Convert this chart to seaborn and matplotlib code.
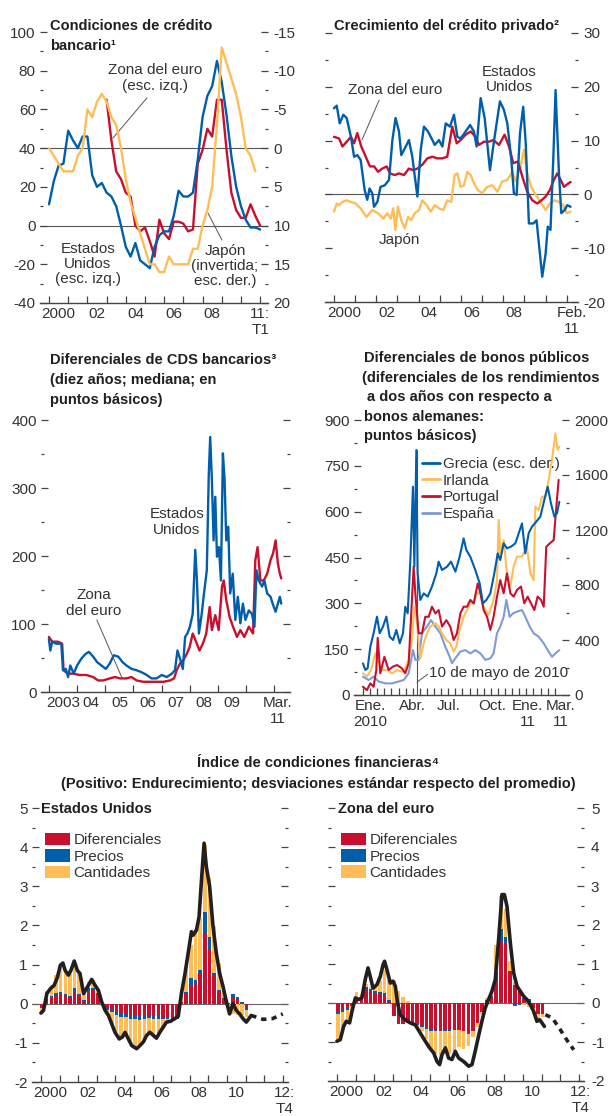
import numpy as np
import matplotlib
matplotlib.use('Agg')
import matplotlib.pyplot as plt
import seaborn as sns
from matplotlib.patches import Patch
from matplotlib.lines import Line2D
from matplotlib.ticker import MultipleLocator

W, H = 614, 1116

BLUE = '#005EAA'
RED = '#C8102E'
YELLOW = '#FEBE55'
LIGHT = '#7D9BD7'
INK = '#231F20'
TXT = '#333333'
AXC = '#444444'

# ---- Condiciones de credito bancario (quarterly)
COND_US_START = 2000.0
COND_US = [11, 23, 31, 32, 49, 44, 40, 46, 46, 26, 20, 22, 17, 15, 10, 0,
           -11, -16, -9, -18, -20, -22, -11, -5, -3, -3, 5, 18, 15, 15, 17, 34,
           56, 67, 72, 85, 74, 57, 36, 20, 10, 3, -1, -1, -2]
COND_EURO_START = 2003.0
COND_EURO = [65, 44, 28, 24, 17, 15, 0, -3, -1, -8, -16, 3, -4, -7, 2, 2,
             1, -3, -2, 32, 39, 50, 46, 65, 65, 39, 17, 8, 4, 4, 11, 5, 0]
COND_JAPAN_START = 2000.0
COND_JAPAN = [0, 1, 2, 3, 3, 3, 1, 0, -5, -4, -6, -7, -6, -4, -3, 0,
              4, 7, 9, 11, 13, 15, 15, 16, 16, 14, 15, 15, 15, 15, 13, 13,
              10, 8, 5, -3, -13, -11, -9, -7, -4, 0, 1, 3]

# ---- Crecimiento del credito privado (monthly, traced)
CRED_US_X = [2000.0, 2000.13, 2000.27, 2000.44, 2000.6, 2000.8, 2000.95, 2001.1, 2001.26, 2001.45,
             2001.57, 2001.68, 2001.81, 2001.89, 2002.05, 2002.2, 2002.4, 2002.6, 2002.76, 2002.91,
             2003.07, 2003.18, 2003.39, 2003.54, 2003.7, 2003.94, 2004.1, 2004.25, 2004.44, 2004.65,
             2004.76, 2004.96, 2005.12, 2005.28, 2005.48, 2005.67, 2005.83, 2005.98, 2006.17, 2006.43,
             2006.61, 2006.74, 2006.93, 2007.12, 2007.37, 2007.59, 2007.84, 2008.03, 2008.19, 2008.38,
             2008.5, 2008.63, 2008.79, 2008.94, 2009.06, 2009.21, 2009.42, 2009.57, 2009.73, 2009.84,
             2010.0, 2010.1, 2010.23, 2010.36, 2010.47, 2010.63, 2010.74, 2010.9, 2011.02, 2011.18]
CRED_US = [16.0, 16.5, 13.2, 14.8, 14.2, 10.7, 7.0, 7.3, 6.4, 0.8,
           -1.0, 1.1, 0.2, -2.3, -1.4, 1.4, 1.7, 2.7, 10.1, 14.2,
           11.7, 7.3, 8.9, 10.1, 7.0, -0.4, 8.3, 12.6, 11.7, 10.1,
           9.2, 10.1, 8.9, 13.2, 12.6, 14.8, 10.7, 10.4, 11.4, 12.9,
           11.7, 8.9, 17.9, 14.2, 4.5, 10.7, 17.3, 15.7, 13.2, 6.4,
           0.2, -0.1, 11.4, 16.3, 9.5, -5.4, -5.4, -4.8, -11.0, -15.3,
           -11.0, -6.0, -6.6, 6.4, 19.4, 3.9, -3.5, -2.9, -2.0, -2.3]
CRED_EURO_X = [2000.0, 2000.24, 2000.4, 2000.6, 2000.8, 2000.95, 2001.1, 2001.29, 2001.5, 2001.7,
               2001.9, 2002.08, 2002.28, 2002.49, 2002.65, 2002.87, 2003.07, 2003.31, 2003.54, 2003.75,
               2003.94, 2004.17, 2004.41, 2004.65, 2004.88, 2005.12, 2005.35, 2005.59, 2005.8, 2005.98,
               2006.22, 2006.46, 2006.69, 2006.85, 2007.09, 2007.32, 2007.53, 2007.8, 2008.06, 2008.27,
               2008.47, 2008.69, 2008.9, 2009.13, 2009.37, 2009.61, 2009.8, 2010.0, 2010.2, 2010.39,
               2010.55, 2010.71, 2010.87, 2011.06, 2011.18]
CRED_EURO = [10.7, 10.4, 8.9, 9.8, 10.7, 9.5, 11.4, 8.9, 7.0, 5.2,
             5.2, 4.2, 4.8, 5.2, 3.9, 3.6, 3.9, 3.6, 4.8, 4.5,
             4.8, 5.5, 6.7, 7.0, 6.7, 6.7, 7.0, 12.6, 9.5, 10.1,
             11.1, 11.7, 10.7, 9.2, 9.8, 9.8, 10.1, 9.2, 11.1, 8.9,
             5.8, 6.1, 3.3, 0.5, -1.1, -1.7, -1.1, -0.4, 0.8, 2.7,
             3.9, 2.7, 1.4, 2.0, 2.3]
CRED_JAPAN_X = [2000.0, 2000.13, 2000.24, 2000.4, 2000.6, 2000.8, 2001.02, 2001.26, 2001.54, 2001.81,
                2002.08, 2002.33, 2002.52, 2002.68, 2002.8, 2002.9, 2003.02, 2003.18, 2003.34, 2003.5,
                2003.65, 2003.81, 2004.02, 2004.17, 2004.38, 2004.57, 2004.76, 2004.96, 2005.17, 2005.35,
                2005.54, 2005.7, 2005.83, 2005.98, 2006.14, 2006.3, 2006.46, 2006.61, 2006.8, 2007.0,
                2007.24, 2007.48, 2007.72, 2007.95, 2008.19, 2008.43, 2008.58, 2008.79, 2008.98, 2009.13,
                2009.32, 2009.53, 2009.76, 2010.0, 2010.2, 2010.43, 2010.63, 2010.83, 2010.99, 2011.18]
CRED_JAPAN = [-3.2, -1.7, -2.0, -1.4, -1.1, -1.4, -1.7, -2.6, -4.2, -2.9,
              -3.5, -4.5, -3.5, -4.5, -2.6, -6.6, -2.3, -4.8, -6.3, -4.2,
              -4.8, -3.5, -2.9, -1.1, -2.0, -3.2, -2.0, -2.6, -2.9, -1.1,
              -1.4, 3.6, 3.9, 1.4, 1.7, 4.2, 3.6, 2.1, 0.8, 0.2,
              1.4, 1.7, 0.5, 2.4, 2.7, 4.2, 2.4, 4.8, 8.3, 3.9,
              1.4, -0.1, -1.4, -2.9, -1.7, -1.1, -1.4, -2.0, -3.5, -3.2]

# ---- Diferenciales de CDS bancarios (traced)
CDS_US_X = [2003.0, 2003.05, 2003.12, 2003.26, 2003.44, 2003.5, 2003.6, 2003.68, 2003.76, 2003.88,
            2004.0, 2004.15, 2004.3, 2004.42, 2004.57, 2004.71, 2004.86, 2005.02, 2005.16, 2005.3,
            2005.46, 2005.61, 2005.75, 2005.93, 2006.11, 2006.29, 2006.47, 2006.64, 2006.82, 2007.0,
            2007.18, 2007.36, 2007.47, 2007.56, 2007.65, 2007.75, 2007.83, 2007.91, 2008.0, 2008.1,
            2008.19, 2008.25, 2008.32, 2008.42, 2008.5, 2008.6, 2008.67, 2008.72, 2008.78, 2008.84,
            2008.9, 2008.96, 2009.03, 2009.1, 2009.17, 2009.23, 2009.29, 2009.36, 2009.43, 2009.52,
            2009.61, 2009.7, 2009.79, 2009.88, 2009.97, 2010.09, 2010.2, 2010.29, 2010.36, 2010.44,
            2010.56, 2010.64, 2010.74, 2010.86, 2010.95, 2011.04, 2011.12, 2011.19, 2011.24]
CDS_US = [78, 61, 74, 71, 71, 32, 34, 22, 39, 27,
          39, 49, 56, 59, 52, 44, 39, 34, 42, 54,
          52, 44, 39, 34, 32, 29, 25, 20, 20, 25,
          22, 27, 32, 61, 49, 34, 81, 86, 96, 115,
          209, 164, 86, 115, 145, 179, 321, 375, 312, 223,
          287, 199, 213, 164, 351, 312, 223, 243, 145, 174,
          106, 140, 101, 130, 106, 120, 115, 96, 179, 164,
          155, 164, 145, 140, 128, 118, 130, 140, 130]
CDS_EURO_X = [2003.0, 2003.12, 2003.32, 2003.47, 2003.52, 2003.67, 2003.85, 2004.09, 2004.33, 2004.57,
              2004.74, 2004.92, 2005.16, 2005.34, 2005.52, 2005.75, 2005.93, 2006.11, 2006.35, 2006.58,
              2006.82, 2007.06, 2007.3, 2007.44, 2007.53, 2007.65, 2007.77, 2007.89, 2007.99, 2008.1,
              2008.22, 2008.34, 2008.46, 2008.58, 2008.7, 2008.78, 2008.9, 2009.02, 2009.14, 2009.2,
              2009.29, 2009.41, 2009.53, 2009.67, 2009.79, 2009.93, 2010.09, 2010.24, 2010.32, 2010.4,
              2010.5, 2010.62, 2010.74, 2010.86, 2010.95, 2011.04, 2011.12, 2011.19, 2011.24]
CDS_EURO = [81, 74, 74, 71, 32, 27, 27, 25, 25, 22,
            17, 17, 20, 22, 20, 20, 22, 17, 15, 15,
            15, 15, 17, 20, 32, 42, 47, 56, 66, 86,
            74, 61, 71, 86, 125, 91, 113, 91, 155, 164,
            135, 110, 96, 81, 91, 81, 96, 86, 194, 213,
            164, 164, 174, 194, 204, 223, 189, 174, 167]

# ---- Diferenciales de bonos publicos (months since Jan 2010, traced)
GREECE_X = [0.49, 0.66, 0.82, 1.01, 1.24, 1.48, 1.67, 1.90, 2.14, 2.37,
            2.61, 2.84, 3.08, 3.31, 3.47, 3.64, 3.83, 4.01, 4.11, 4.25,
            4.34, 4.53, 4.77, 5.05, 5.35, 5.66, 5.82, 6.06, 6.41, 6.69,
            7.0, 7.3, 7.58, 7.77, 8.05, 8.4, 8.71, 8.94, 9.18, 9.46,
            9.74, 9.98, 10.16, 10.4, 10.63, 10.92, 11.22, 11.46, 11.69, 11.92,
            12.16, 12.39, 12.7, 12.98, 13.26, 13.5, 13.73, 13.97, 14.15, 14.32]
GREECE = [230, 182, 194, 352, 449, 570, 449, 497, 570, 424,
          400, 473, 376, 449, 642, 594, 982, 1515, 933, 1782,
          885, 691, 739, 715, 788, 885, 970, 909, 933, 970,
          897, 1006, 1139, 1055, 1006, 909, 812, 667, 691, 739,
          885, 1030, 982, 1103, 1067, 1079, 1103, 1176, 1248, 1030,
          1176, 1224, 1261, 1297, 1418, 1515, 1394, 1297, 1321, 1406]
IRELAND_X = [0.49, 0.77, 1.06, 1.36, 1.6, 1.83, 2.18, 2.54, 2.89, 3.24,
             3.47, 3.71, 3.94, 4.11, 4.30, 4.53, 4.77, 5.0, 5.23, 5.59,
             5.82, 6.06, 6.36, 6.64, 6.88, 7.07, 7.3, 7.58, 7.82, 8.05,
             8.29, 8.52, 8.76, 8.99, 9.34, 9.69, 9.93, 10.05, 10.16, 10.4,
             10.63, 10.87, 11.1, 11.34, 11.69, 12.04, 12.28, 12.51, 12.63, 12.86,
             13.1, 13.33, 13.57, 13.8, 14.04, 14.2, 14.32]
IRELAND = [71, 60, 82, 136, 104, 82, 82, 71, 82, 76,
           87, 115, 180, 289, 235, 120, 169, 202, 224, 235,
           224, 202, 180, 169, 142, 158, 213, 256, 278, 300,
           300, 333, 333, 289, 262, 311, 376, 573, 464, 507,
           398, 355, 420, 453, 453, 485, 398, 376, 616, 605,
           649, 649, 704, 769, 856, 802, 813]
PORTUGAL_X = [0.49, 0.77, 1.01, 1.24, 1.43, 1.53, 1.71, 2.0, 2.30, 2.61,
              2.89, 3.24, 3.47, 3.71, 3.94, 4.06, 4.18, 4.41, 4.65, 4.88,
              5.12, 5.35, 5.59, 5.82, 6.06, 6.36, 6.64, 6.88, 7.11, 7.35,
              7.58, 7.82, 8.05, 8.29, 8.57, 8.76, 8.99, 9.23, 9.46, 9.69,
              9.93, 10.16, 10.4, 10.63, 10.87, 11.1, 11.34, 11.62, 11.85, 12.09,
              12.32, 12.56, 12.79, 13.03, 13.22, 13.4, 13.64, 13.92, 14.11, 14.27]
PORTUGAL = [27, 16, 38, 27, 82, 187, 71, 125, 82, 93,
            98, 87, 71, 104, 311, 420, 333, 202, 202, 256,
            256, 289, 267, 278, 224, 245, 224, 180, 202, 267,
            289, 289, 311, 300, 365, 333, 278, 256, 213, 256,
            322, 376, 333, 398, 333, 322, 344, 355, 300, 322,
            300, 278, 322, 311, 289, 485, 496, 507, 616, 704]
SPAIN_X = [0.49, 0.89, 1.24, 1.6, 2.07, 2.54, 3.0, 3.36, 3.71, 4.01,
           4.18, 4.41, 4.65, 5.0, 5.28, 5.59, 5.94, 6.29, 6.6, 6.76,
           7.07, 7.35, 7.7, 8.05, 8.4, 8.76, 9.11, 9.46, 9.69, 9.93,
           10.16, 10.4, 10.59, 10.82, 11.06, 11.34, 11.69, 11.92, 12.23, 12.51,
           12.86, 13.22, 13.5, 13.8, 14.04, 14.32]
SPAIN = [60, 49, 60, 44, 38, 38, 44, 49, 71, 147,
         115, 115, 202, 224, 245, 224, 202, 158, 125, 104,
         125, 142, 147, 136, 147, 136, 115, 120, 136, 202,
         224, 256, 311, 256, 267, 273, 278, 256, 224, 202,
         191, 169, 147, 125, 136, 147]
MAY_10 = 4.3

# ---- Indice de condiciones financieras (quarterly components from 2000Q1)
FCI_START = 2000.0
US_DIF = [-0.10, 0.10, 0.15, 0.22, 0.25, 0.20, 0.15, 0.30, 0.20, 0.08, 0.30, 0.35,
          0.25, -0.02, -0.10, -0.15, -0.20, -0.25, -0.25, -0.28, -0.30, -0.32, -0.30, -0.28,
          -0.30, -0.32, -0.33, -0.35, -0.36, -0.35, 0.05, 0.25, 0.45, 0.50, 0.75, 1.80,
          1.40, 0.70, 0.30, 0.12, 0.03, 0.15, 0.10, 0.02, -0.10]
US_PRE = [-0.02, 0.02, 0.04, 0.06, 0.05, 0.04, 0.05, 0.10, 0.05, 0.02, 0.10, 0.05,
          0.03, -0.01, -0.05, -0.07, -0.08, -0.08, -0.08, -0.10, -0.10, -0.10, -0.08, -0.08,
          -0.08, -0.08, -0.07, -0.05, -0.04, -0.03, 0.00, 0.05, 0.20, 0.10, 0.10, 0.55,
          0.30, 0.08, 0.05, 0.02, 0.00, 0.10, 0.08, 0.03, -0.05]
US_CAN = [-0.12, 0.20, 0.30, 0.45, 0.65, 0.65, 0.55, 0.65, 0.50, 0.20, 0.15, 0.20,
          0.10, -0.02, -0.10, -0.30, -0.45, -0.55, -0.45, -0.60, -0.70, -0.65, -0.60, -0.40,
          -0.45, -0.45, -0.25, -0.08, -0.05, -0.02, 0.30, 0.60, 0.85, 1.30, 1.35, 1.70,
          1.50, 1.20, 0.70, 0.35, -0.12, -0.25, -0.30, -0.30, -0.20]
EA_DIF = [-0.20, -0.18, -0.14, -0.05, 0.10, 0.10, 0.35, 0.30, 0.25, 0.22, 0.20, 0.05,
          -0.30, -0.50, -0.50, -0.50, -0.52, -0.55, -0.60, -0.65, -0.70, -0.70, -0.72, -0.70,
          -0.70, -0.68, -0.68, -0.72, -0.78, -0.72, -0.50, -0.20, 0.05, 0.15, 0.70, 1.60,
          1.55, 0.80, 0.45, 0.30, 0.10, 0.05, -0.10, -0.25, -0.25]
EA_PRE = [-0.07, -0.04, -0.03, -0.02, 0.02, 0.03, 0.05, 0.05, 0.05, 0.06, 0.05, 0.03,
          -0.03, -0.05, -0.03, -0.02, -0.02, -0.02, -0.02, -0.02, -0.02, -0.02, -0.01, -0.02,
          -0.01, -0.01, -0.01, -0.01, -0.01, -0.01, -0.01, -0.02, 0.02, 0.02, 0.10, 0.30,
          0.15, 0.03, -0.08, -0.05, 0.04, 0.04, -0.02, -0.03, -0.02]
EA_CAN = [-0.70, -0.50, -0.30, -0.10, 0.15, 0.10, 0.10, 0.05, 0.10, 0.30, 0.60, 0.50,
          0.60, 0.30, 0.15, 0.05, -0.05, -0.08, -0.10, -0.25, -0.45, -0.60, -0.80, -0.55,
          -0.60, -0.55, -0.45, -0.45, -0.30, -0.15, -0.10, -0.05, 0.05, 0.15, 0.70, 0.85,
          0.70, 0.25, 0.10, 0.05, -0.05, -0.10, -0.15, -0.20, -0.10]

US_LINE_X = [2000.0, 2000.14, 2000.32, 2000.5, 2000.71, 2000.89, 2001.04, 2001.18, 2001.3, 2001.48,
             2001.61, 2001.79, 2001.96, 2002.1, 2002.29, 2002.5, 2002.73, 2002.91, 2003.09, 2003.27,
             2003.45, 2003.63, 2003.8, 2003.98, 2004.21, 2004.38, 2004.52, 2004.7, 2004.88, 2005.14,
             2005.32, 2005.5, 2005.68, 2005.86, 2006.04, 2006.21, 2006.39, 2006.57, 2006.75, 2006.96,
             2007.2, 2007.38, 2007.55, 2007.73, 2007.91, 2008.09, 2008.18, 2008.36, 2008.5, 2008.63,
             2008.77, 2008.89, 2009.07, 2009.25, 2009.43, 2009.61, 2009.79, 2009.93, 2010.14, 2010.32,
             2010.5, 2010.68, 2010.86, 2011.04, 2011.18, 2011.3]
US_LINE = [-0.24, -0.17, 0.26, 0.38, 0.47, 0.68, 0.98, 1.04, 0.85, 0.73,
           0.85, 1.09, 0.85, 0.77, 0.26, 0.43, 0.62, 0.47, 0.34, 0.04,
           -0.17, -0.30, -0.51, -0.73, -0.90, -0.85, -0.73, -0.90, -1.07, -1.15,
           -1.07, -0.98, -0.81, -0.73, -0.81, -0.88, -0.73, -0.60, -0.47, -0.45,
           -0.38, -0.32, 0.26, 0.73, 1.28, 1.84, 1.75, 1.88, 2.22, 3.16,
           4.10, 3.50, 2.99, 1.97, 1.28, 0.77, 0.43, 0.13, -0.26, 0.00,
           -0.17, -0.26, -0.38, -0.47, -0.38, -0.30]
US_PROJ_X = [2011.3, 2011.95, 2012.45, 2013.0]
US_PROJ = [-0.30, -0.40, -0.38, -0.26]
EA_LINE_X = [2000.0, 2000.18, 2000.36, 2000.5, 2000.68, 2000.81, 2000.99, 2001.16, 2001.34, 2001.52,
             2001.67, 2001.79, 2001.94, 2002.15, 2002.33, 2002.48, 2002.56, 2002.69, 2002.87, 2003.01,
             2003.14, 2003.26, 2003.4, 2003.67, 2003.94, 2004.21, 2004.48, 2004.75, 2004.98, 2005.2,
             2005.38, 2005.52, 2005.65, 2005.83, 2006.0, 2006.18, 2006.36, 2006.54, 2006.81, 2007.08,
             2007.26, 2007.43, 2007.61, 2007.79, 2007.97, 2008.15, 2008.33, 2008.51, 2008.69, 2008.87,
             2009.0, 2009.14, 2009.32, 2009.5, 2009.68, 2009.86, 2010.04, 2010.21, 2010.39, 2010.57,
             2010.75, 2010.9, 2011.02, 2011.15]
EA_LINE = [-0.98, -0.94, -0.60, -0.47, -0.51, -0.21, 0.13, 0.09, 0.13, 0.60,
           0.90, 0.68, 0.38, 0.47, 0.68, 0.98, 1.07, 0.85, 0.51, 0.56,
           0.43, 0.00, -0.30, -0.43, -0.51, -0.56, -0.77, -0.98, -1.15, -1.28,
           -1.50, -1.58, -1.32, -1.15, -1.41, -1.45, -1.24, -1.41, -1.50, -1.62,
           -1.58, -1.24, -0.85, -0.47, -0.13, 0.09, 0.30, 0.60, 1.62, 2.78,
           2.78, 2.48, 1.54, 0.77, 0.43, 0.30, 0.17, 0.09, -0.04, -0.21,
           -0.47, -0.43, -0.51, -0.60]
EA_PROJ_X = [2011.2, 2011.57, 2012.0, 2012.4, 2012.73]
EA_PROJ = [-0.30, -0.38, -0.68, -0.98, -1.20]


sns.set_theme(style='white')
plt.rcParams['font.family'] = ['Liberation Sans', 'DejaVu Sans']
plt.rcParams['axes.unicode_minus'] = False
plt.rcParams['font.size'] = 11

fig = plt.figure(figsize=(W / 100, H / 100), dpi=100)


def px_axes(left, top, right, bottom):
    return fig.add_axes([left / W, 1 - bottom / H, (right - left) / W, (bottom - top) / H])


def fig_line(x, y, s, **kw):
    kw.setdefault('color', INK)
    kw.setdefault('fontsize', 10.5)
    kw.setdefault('fontweight', 'bold')
    fig.text(x / W, 1 - y / H, s, va='baseline', **kw)


def clean(ax, bottom=True):
    for side in ('top', 'left', 'right'):
        ax.spines[side].set_visible(False)
    ax.spines['bottom'].set_visible(bottom)
    ax.spines['bottom'].set_color(AXC)
    ax.spines['bottom'].set_linewidth(1.0)
    ax.patch.set_alpha(0)
    ax.grid(False)


def style_y(ax, ylim, major, minor, left=True, right=True, labelleft=True, labelright=False):
    ax.set_ylim(*ylim)
    ax.yaxis.set_major_locator(MultipleLocator(major))
    ax.yaxis.set_minor_locator(MultipleLocator(minor))
    ax.tick_params(axis='y', which='both', direction='in', left=left, right=right,
                   labelleft=labelleft, labelright=labelright, color=AXC,
                   labelcolor=TXT, labelsize=11, width=0.9)
    ax.tick_params(axis='y', which='major', length=5, pad=3)
    ax.tick_params(axis='y', which='minor', length=2.5)
    ax.set_ylabel('')


def style_x(ax, xlim, major, label_pos, labels):
    ax.set_xlim(*xlim)
    ax.xaxis.remove_overlapping_locs = False
    ax.set_xticks(major)
    ax.set_xticks(label_pos, labels, minor=True)
    ax.tick_params(axis='x', which='major', direction='in', length=5, width=0.9,
                   color=AXC, labelbottom=False, top=False, bottom=True)
    ax.tick_params(axis='x', which='minor', length=0, pad=3, labelsize=11,
                   labelcolor=TXT, bottom=True, labelbottom=True)
    ax.set_xlabel('')


def line(ax, x, y, color, lw=1.7, **kw):
    sns.lineplot(x=x, y=y, ax=ax, color=color, linewidth=lw, estimator=None,
                 sort=False, legend=False, **kw)


def note(ax, x, y, s, **kw):
    kw.setdefault('ha', 'center')
    ax.text(x, y, s, va='center', fontsize=11, color=TXT, linespacing=1.12, **kw)


def leader(ax, xs, ys):
    ax.plot(xs, ys, color='#555555', lw=0.7)


def quarters(start, n):
    return [start + 0.25 * i for i in range(n)]


# ================= Panel 1 =================
ax1 = px_axes(40, 32, 268, 303)
ax1j = ax1.twinx()
line(ax1j, quarters(COND_JAPAN_START, len(COND_JAPAN)), COND_JAPAN, YELLOW)
line(ax1, quarters(COND_EURO_START, len(COND_EURO)), COND_EURO, RED)
line(ax1, quarters(COND_US_START, len(COND_US)), COND_US, BLUE)
ax1.axhline(40, color='#555555', lw=0.8, zorder=0)
ax1.axhline(0, color='#555555', lw=0.8, zorder=0)
clean(ax1)
clean(ax1j, bottom=False)
style_x(ax1, (1999.53, 2011.41), list(range(2000, 2012)),
        [2000.5, 2002.5, 2004.5, 2006.5, 2008.5, 2011.0],
        ['2000', '02', '04', '06', '08', '11:\nT1'])
style_y(ax1, (-40, 100), 20, 10, left=True, right=False)
style_y(ax1j, (20, -15), 5, 2.5, left=False, right=True, labelleft=False, labelright=True)
ax1j.tick_params(axis='y', which='major', pad=4)
note(ax1, 2005.52, 76.2, 'Zona del euro\n(esc. izq.)')
leader(ax1, [2005.1, 2003.33], [65.9, 45.2])
note(ax1, 2002.03, -19.9, 'Estados\nUnidos\n(esc. izq.)')
note(ax1, 2009.17, -20.9, 'Japón\n(invertida;\nesc. der.)')
leader(ax1, [2009.01, 2008.28], [-7.5, 6.5])
fig_line(50, 30, 'Condiciones de crédito')
fig_line(50, 50, 'bancario¹')

# ================= Panel 2 =================
ax2 = px_axes(325, 33, 578, 302)
line(ax2, CRED_JAPAN_X, CRED_JAPAN, YELLOW)
line(ax2, CRED_EURO_X, CRED_EURO, RED)
line(ax2, CRED_US_X, CRED_US, BLUE)
ax2.axhline(0, color='#555555', lw=0.8, zorder=0)
clean(ax2)
style_x(ax2, (1999.575, 2011.53), list(range(2000, 2012)),
        [2000.5, 2002.5, 2004.5, 2006.5, 2008.5, 2011.25],
        ['2000', '02', '04', '06', '08', 'Feb.\n11'])
style_y(ax2, (-20, 30), 10, 5, labelleft=False, labelright=True)
ax2.tick_params(axis='y', which='major', pad=4)
note(ax2, 2002.88, 19.4, 'Zona del euro')
leader(ax2, [2002.13, 2001.32], [17.5, 10.1])
note(ax2, 2008.27, 21.4, 'Estados\nUnidos')
note(ax2, 2003.07, -8.5, 'Japón')
fig_line(334, 30, 'Crecimiento del crédito privado²')

# ================= Panel 3 =================
ax3 = px_axes(41, 420, 290, 692)
line(ax3, CDS_EURO_X, CDS_EURO, RED)
line(ax3, CDS_US_X, CDS_US, BLUE)
clean(ax3)
style_x(ax3, (2002.72, 2011.55), list(range(2003, 2012)),
        [2003.5, 2004.5, 2005.5, 2006.5, 2007.5, 2008.5, 2009.5, 2011.12],
        ['2003', '04', '05', '06', '07', '08', '09', 'Mar.\n11'])
style_y(ax3, (0, 400), 100, 50, labelleft=True, labelright=False)
note(ax3, 2007.54, 250, 'Estados\nUnidos')
note(ax3, 2004.6, 131, 'Zona\ndel euro')
leader(ax3, [2004.7, 2005.59], [106, 21])
for k, s in enumerate(['Diferenciales de CDS bancarios³', '(diez años; mediana; en',
                       'puntos básicos)']):
    fig_line(50, 364 + 20 * k, s)

# ================= Panel 4 =================
ax4 = px_axes(354, 420, 569, 695)
ax4g = ax4.twinx()
line(ax4, SPAIN_X, SPAIN, LIGHT, lw=1.5)
line(ax4, IRELAND_X, IRELAND, YELLOW, lw=1.5)
line(ax4, PORTUGAL_X, PORTUGAL, RED, lw=1.5)
line(ax4g, GREECE_X, GREECE, BLUE, lw=1.5)
ax4.axvline(MAY_10, ymax=0.89, color='#555555', lw=0.8, zorder=0)
clean(ax4)
clean(ax4g, bottom=False)
style_x(ax4, (-0.14, 15.0), list(np.arange(0.5, 14.1, 0.5)),
        [1.0, 4.0, 6.5, 9.6, 12.1, 14.4],
        ['Ene.\n2010', 'Abr.', 'Jul.', 'Oct.', 'Ene.\n11', 'Mar.\n11'])
style_y(ax4, (0, 900), 150, 75, left=True, right=False)
style_y(ax4g, (0, 2000), 400, 200, left=False, right=True, labelleft=False, labelright=True)
ax4g.tick_params(axis='y', which='major', pad=4)
ax4.text(5.14, 72, '10 de mayo de 2010', ha='left', va='center', fontsize=11, color=TXT)
leader(ax4, [MAY_10, 5.05], [42, 68])
handles = [Line2D([], [], color=c, lw=2) for c in (BLUE, YELLOW, RED, LIGHT)]
ax4g.legend(handles, ['Grecia (esc. der.)', 'Irlanda', 'Portugal', 'España'],
            loc='upper left', bbox_to_anchor=(0.316, 0.865), frameon=False,
            borderpad=0, borderaxespad=0, handlelength=1.2, handletextpad=0.15,
            labelspacing=0.17, fontsize=11, labelcolor=TXT)
title4 = [(364, 'Diferenciales de bonos públicos'),
          (362, '(diferenciales de los rendimientos'),
          (367, 'a dos años con respecto a'),
          (364, 'bonos alemanes:'),
          (364, 'puntos básicos)')]
for k, (x, s) in enumerate(title4):
    fig_line(x, 362 + 19.6 * k, s)


# ================= Panels 5 & 6 =================
def fci_panel(ax, dif, pre, can, lx, ly, px, py, label_pos, right_labels):
    xs = np.array(quarters(FCI_START, len(dif))) + 0.06
    pos = np.zeros(len(xs))
    neg = np.zeros(len(xs))
    for comp, color in ((dif, RED), (pre, BLUE), (can, YELLOW)):
        comp = np.array(comp)
        base = np.where(comp >= 0, pos, neg)
        ax.bar(xs, comp, bottom=base, width=0.19, color=color, linewidth=0, zorder=2)
        pos = pos + np.clip(comp, 0, None)
        neg = neg + np.clip(comp, None, 0)
    ax.axhline(0, color='#666666', lw=0.8, zorder=1)
    line(ax, lx, ly, INK, lw=2.6, zorder=3)
    line(ax, px, py, INK, lw=2.6, zorder=3, linestyle=(0, (1.5, 1.4)))
    clean(ax)
    style_x(ax, (1999.52, 2013.28), list(range(2000, 2014)),
            [2000.5, 2002.5, 2004.5, 2006.5, 2008.5, 2010.5, 2013.1],
            ['2000', '02', '04', '06', '08', '10', '12:\nT4'])
    style_y(ax, (-2, 5), 1, 0.5, labelleft=not right_labels, labelright=right_labels)
    ax.tick_params(axis='y', which='major', pad=5 if right_labels else 3)
    patches = [Patch(color=c, linewidth=0) for c in (RED, BLUE, YELLOW)]
    ax.legend(patches, ['Diferenciales', 'Precios', 'Cantidades'], loc='upper left',
              bbox_to_anchor=label_pos, frameon=False, borderpad=0, borderaxespad=0,
              handlelength=1.65, handleheight=0.9, handletextpad=0.2,
              labelspacing=0.12, fontsize=11, labelcolor=TXT)


ax5 = px_axes(32, 808, 288, 1082)
fci_panel(ax5, US_DIF, US_PRE, US_CAN, US_LINE_X, US_LINE, US_PROJ_X, US_PROJ,
          (0.051, 0.91), False)
ax6 = px_axes(328, 808, 584, 1081)
fci_panel(ax6, EA_DIF, EA_PRE, EA_CAN, EA_LINE_X, EA_LINE, EA_PROJ_X, EA_PROJ,
          (0.051, 0.91), True)
fig_line(41, 813, 'Estados Unidos')
fig_line(338, 813, 'Zona del euro')
fig_line(318, 767, 'Índice de condiciones financieras⁴', ha='center')
fig_line(318, 788, '(Positivo: Endurecimiento; desviaciones estándar respecto del promedio)',
         ha='center')

fig.savefig('out.png', dpi=100)
